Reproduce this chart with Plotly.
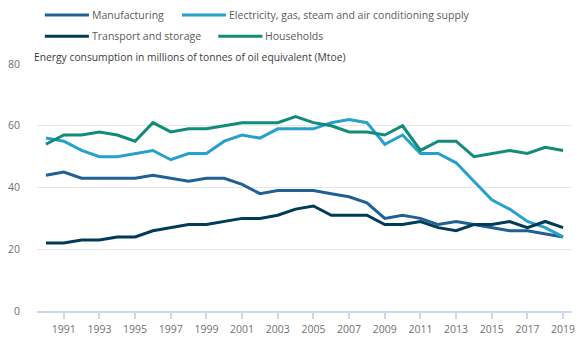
import plotly.graph_objects as go

# Final energy consumption by sector, UK, 1990-2019 (Mtoe)
years = list(range(1990, 2020))

manufacturing = [44, 45, 43, 43, 43, 43, 44, 43, 42, 43,
                 43, 41, 38, 39, 39, 39, 38, 37, 35, 30,
                 31, 30, 28, 29, 28, 27, 26, 26, 25, 24]

electricity = [56, 55, 52, 50, 50, 51, 52, 49, 51, 51,
               55, 57, 56, 59, 59, 59, 61, 62, 61, 54,
               57, 51, 51, 48, 42, 36, 33, 29, 27, 24]

transport = [22, 22, 23, 23, 24, 24, 26, 27, 28, 28,
             29, 30, 30, 31, 33, 34, 31, 31, 31, 28,
             28, 29, 27, 26, 28, 28, 29, 27, 29, 27]

households = [54, 57, 57, 58, 57, 55, 61, 58, 59, 59,
              60, 61, 61, 61, 63, 61, 60, 58, 58, 57,
              60, 52, 55, 55, 50, 51, 52, 51, 53, 52]

series_names = ["Manufacturing",
                "Electricity, gas, steam and air conditioning supply",
                "Transport and storage",
                "Households"]
series_values = [manufacturing, electricity, transport, households]
series_colors = ["#206095", "#27a0cc", "#003c57", "#118c7b"]

y_ticks = [0, 20, 40, 60, 80]
x_ticks = list(range(1991, 2020, 2))

W, H = 583, 344
M_L, M_R, M_T, M_B = 29, 8, 64, 26
PW = W - M_L - M_R
PH = H - M_T - M_B


def px_x(p):
    return (p - M_L) / PW


def px_y(p):
    return (H - M_B - p) / PH


FONT = "Open Sans"
TEXT_GREY = "#707070"

fig = go.Figure()
for name, vals, col in zip(series_names, series_values, series_colors):
    fig.add_trace(go.Scatter(
        x=years, y=vals, name=name, mode="lines",
        line=dict(color=col, width=3),
        showlegend=False,
        hovertemplate="%{x}: %{y} Mtoe<extra>" + name + "</extra>",
    ))

# Legend drawn as two rows of line swatches and labels
legend_slots = [(37, 13.5), (177, 13.5), (37, 35.5), (214, 35.5)]
shapes = []
annotations = []
for (lx, ly), name, col in zip(legend_slots, series_names, series_colors):
    shapes.append(dict(
        type="line", xref="paper", yref="paper",
        x0=px_x(lx), x1=px_x(lx + 45), y0=px_y(ly), y1=px_y(ly),
        line=dict(color=col, width=3),
    ))
    annotations.append(dict(
        xref="paper", yref="paper", x=px_x(lx + 46), y=px_y(ly),
        xanchor="left", yanchor="middle", showarrow=False,
        text=name, font=dict(family=FONT, size=10.5, color="#5a5a5a"),
    ))

annotations.append(dict(
    xref="paper", yref="paper", x=px_x(24), y=px_y(56.5),
    xanchor="left", yanchor="middle", showarrow=False,
    text="Energy consumption in millions of tonnes of oil equivalent (Mtoe)",
    font=dict(family=FONT, size=10.3, color="#3c3c3c"),
))

fig.update_layout(
    width=W, height=H,
    margin=dict(l=M_L, r=M_R, t=M_T, b=M_B, pad=0),
    paper_bgcolor="white", plot_bgcolor="white",
    font=dict(family=FONT, size=10.5, color=TEXT_GREY),
    shapes=shapes, annotations=annotations,
    showlegend=False,
)
fig.update_xaxes(
    range=[1989.5, 2019.5], tickmode="array", tickvals=x_ticks,
    ticktext=[str(v) for v in x_ticks],
    showgrid=False, zeroline=False,
    showline=True, linecolor="#cdd7ef", linewidth=1.5,
    ticks="outside", ticklen=6, tickcolor="#cdd7ef", tickwidth=1.5,
    ticklabelstandoff=2,
    tickfont=dict(family=FONT, size=10.5, color=TEXT_GREY),
)
fig.update_yaxes(
    range=[0, 80], tickmode="array", tickvals=y_ticks,
    showgrid=True, gridcolor="#e6e6e6", gridwidth=1, zeroline=False,
    showline=False, ticks="", ticklabelstandoff=16,
    tickfont=dict(family=FONT, size=10.5, color=TEXT_GREY),
)

fig.write_html("out.html")
